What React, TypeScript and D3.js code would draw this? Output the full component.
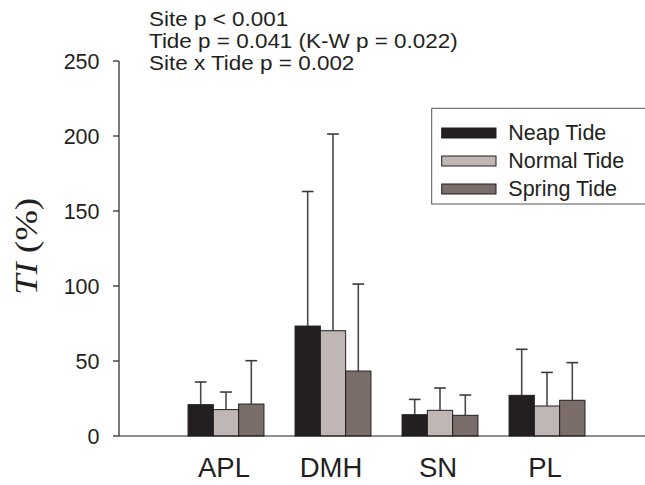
import React from "react";
import * as d3 from "d3";

const sites = ["APL", "DMH", "SN", "PL"];
const tides = ["Neap Tide", "Normal Tide", "Spring Tide"];
const tideColors = ["#231f20", "#c0b7b4", "#7b6d69"];
const neapMean = [20.9, 73.3, 14.2, 27.1];
const neapSD = [15.1, 89.7, 10.2, 30.7];
const normalMean = [17.6, 70.2, 17.1, 20];
const normalSD = [11.7, 131.1, 14.9, 22.4];
const springMean = [21.3, 43.3, 13.8, 23.8];
const springSD = [28.9, 58, 13.5, 25.1];
const yTicks = [0, 50, 100, 150, 200, 250];
const statLines = [
  "Site p < 0.001",
  "Tide p = 0.041 (K-W p = 0.022)",
  "Site x Tide p = 0.002",
];

const W = 645;
const H = 485;

export default function App() {
  const y = d3.scaleLinear().domain([0, 250]).range([436, 61]);
  const x = d3.scaleLinear().domain([0, 5]).range([119, 654]);
  const barW = 25.3;
  const means = [neapMean, normalMean, springMean];
  const sds = [neapSD, normalSD, springSD];
  const font = "'Liberation Sans', Arial, Helvetica, sans-serif";
  const capW = 11.7;

  return (
    <div style={{ position: "fixed", left: 0, top: 0 }}>
      <svg width={W} height={H} style={{ display: "block", background: "#fff" }}>
        {/* stats text */}
        {statLines.map((t, i) => (
          <text key={t} x={149} y={26.5 + i * 22} fontFamily={font} fontSize={21} fill="#231f20"
            transform={`translate(149,0) scale(1.07,1) translate(-149,0)`}>
            {t}
          </text>
        ))}
        {/* bars */}
        {sites.map((s, si) => {
          const cx = x(si + 1);
          return (
            <g key={s}>
              {tides.map((t, ti) => {
                const m = means[ti][si];
                const sd = sds[ti][si];
                const left = cx - 1.5 * barW + ti * barW;
                const bc = left + barW / 2;
                return (
                  <g key={t}>
                    <line x1={bc} x2={bc} y1={y(m)} y2={y(m + sd)} stroke="#4a4a4a" strokeWidth={1.6} />
                    <line x1={bc - capW / 2} x2={bc + capW / 2} y1={y(m + sd)} y2={y(m + sd)} stroke="#3a3a3a" strokeWidth={1.6} />
                    <rect x={left} y={y(m)} width={barW} height={y(0) - y(m)} fill={tideColors[ti]} stroke="#231f20" strokeWidth={1} />
                  </g>
                );
              })}
              <text x={cx - 2} y={477} textAnchor="middle" fontFamily={font} fontSize={27.5} fill="#231f20">
                {s}
              </text>
            </g>
          );
        })}
        {/* axes */}
        <line x1={119} x2={119} y1={y(250)} y2={y(0)} stroke="#231f20" strokeWidth={1.2} />
        <line x1={119} x2={W} y1={y(0)} y2={y(0)} stroke="#231f20" strokeWidth={1.2} />
        {yTicks.map((v) => (
          <g key={v}>
            <line x1={113} x2={119} y1={y(v)} y2={y(v)} stroke="#231f20" strokeWidth={1.2} />
            <text x={99.5} y={y(v)} dy="0.36em" textAnchor="end" fontFamily={font} fontSize={21.5} fill="#231f20">
              {v}
            </text>
          </g>
        ))}
        {/* y label */}
        <text
          transform={`translate(37,246.5) rotate(-90)`}
          textAnchor="middle"
          fontFamily="'Liberation Serif', 'Times New Roman', serif"
          fontSize={32}
          textLength={97}
          lengthAdjust="spacingAndGlyphs"
          fill="#231f20"
        >
          <tspan fontStyle="italic">TI</tspan>
          <tspan> (%)</tspan>
        </text>
        {/* legend */}
        <rect x={431.7} y={108.3} width={W} height={95.7} fill="#fff" stroke="#555" strokeWidth={1} />
        {tides.map((t, i) => {
          const cy = 133 + i * 28;
          return (
            <g key={t}>
              <rect x={441.7} y={cy - 5} width={54.3} height={10} fill={tideColors[i]} stroke="#231f20" strokeWidth={1} />
              <text x={508.3} y={cy + 6.8} fontFamily={font} fontSize={21.5} fill="#231f20">
                {t}
              </text>
            </g>
          );
        })}
      </svg>
    </div>
  );
}
